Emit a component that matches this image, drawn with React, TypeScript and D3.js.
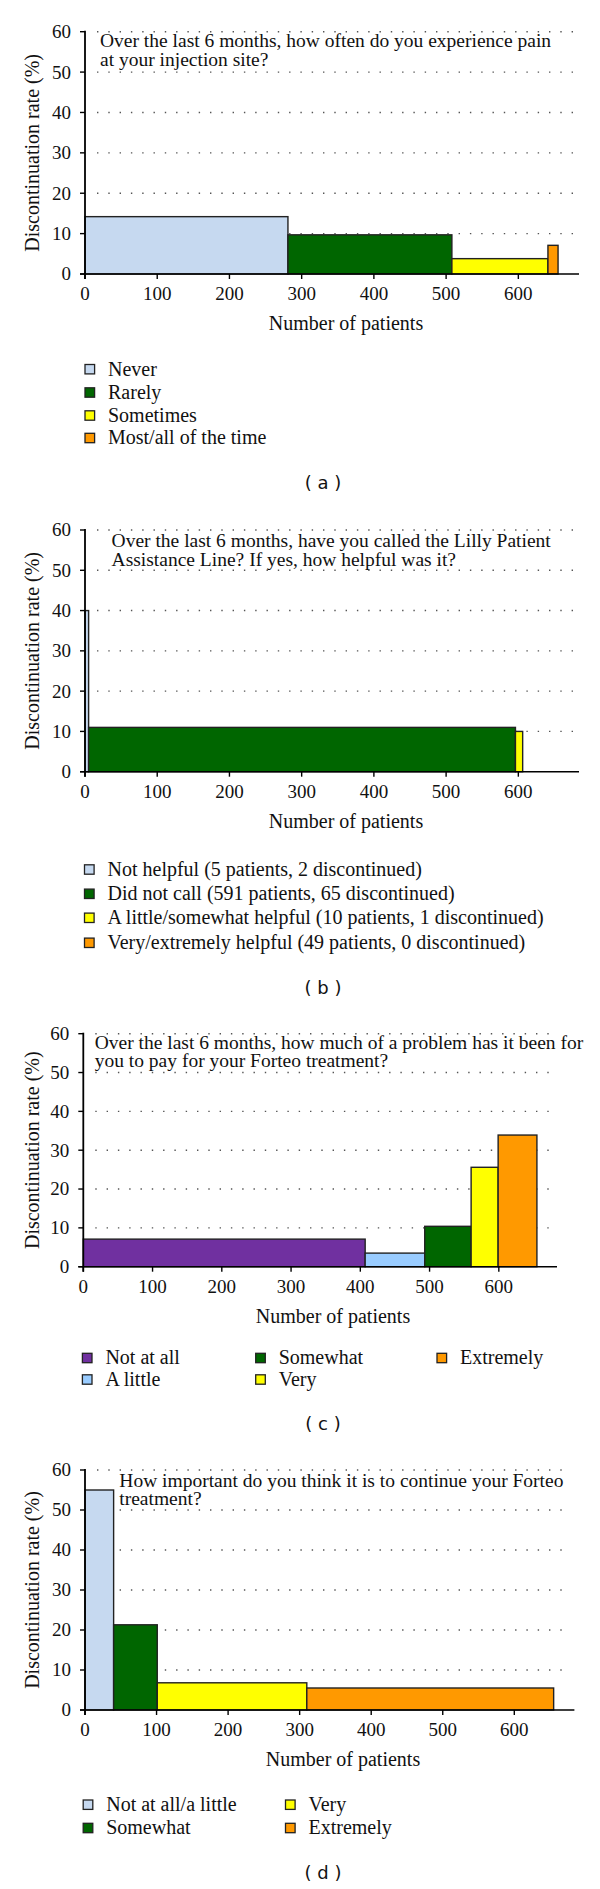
import React from "react";
import * as d3 from "d3";

// ---------- data ----------
const aCategories = ["Never", "Rarely", "Sometimes", "Most/all of the time"];
const aPatients = [281, 227, 133, 14];
const aRates = [14.2, 9.7, 3.8, 7.1];
const aColors = ["#c6d9f0", "#006600", "#ffff00", "#ff9900"];
const aQuestion = [
  "Over the last 6 months, how often do you experience pain",
  "at your injection site?",
];

const bCategories = [
  "Not helpful (5 patients, 2 discontinued)",
  "Did not call (591 patients, 65 discontinued)",
  "A little/somewhat helpful (10 patients, 1 discontinued)",
  "Very/extremely helpful (49 patients, 0 discontinued)",
];
const bPatients = [5, 591, 10, 49];
const bRates = [40, 11.0, 10, 0];
const bColors = ["#c6d9f0", "#006600", "#ffff00", "#ff9900"];
const bQuestion = [
  "Over the last 6 months, have you called the Lilly Patient",
  "Assistance Line? If yes, how helpful was it?",
];

const cCategories = ["Not at all", "A little", "Somewhat", "Very", "Extremely"];
const cPatients = [407, 86, 67, 39, 56];
const cRates = [7.1, 3.5, 10.4, 25.6, 33.9];
const cColors = ["#7030a0", "#99ccff", "#006600", "#ffff00", "#ff9900"];
const cQuestion = [
  "Over the last 6 months, how much of a problem has it been for",
  "you to pay for your Forteo treatment?",
];

const dCategories = ["Not at all/a little", "Somewhat", "Very", "Extremely"];
const dPatients = [40, 61, 209, 345];
const dRates = [55, 21.3, 6.8, 5.5];
const dColors = ["#c6d9f0", "#006600", "#ffff00", "#ff9900"];
const dQuestion = [
  "How important do you think it is to continue your Forteo",
  "treatment?",
];

const xTicks = [0, 100, 200, 300, 400, 500, 600];
const yTicks = [0, 10, 20, 30, 40, 50, 60];
const xDomainMax = 684;
const yDomainMax = 60;

const SERIF = "'Liberation Serif', 'Times New Roman', serif";
const SANS = "'DejaVu Sans', sans-serif";

// ---------- layout ----------
type PanelCfg = {
  categories: string[];
  patients: number[];
  rates: number[];
  colors: string[];
  question: string[];
  label: string;
  x0: number;
  x1: number;
  yBottom: number;
  yTop: number;
  qx: number;
  qy: number;
  xLabelX: number;
  legendCols: number[];
  legendRows: number[];
  rowsPerCol: number;
  panelLabelY: number;
};

const panels: PanelCfg[] = [
  {
    categories: aCategories, patients: aPatients, rates: aRates, colors: aColors,
    question: aQuestion, label: "( a )",
    x0: 85, x1: 579, yBottom: 274, yTop: 31.7, qx: 100, qy: 47.3, xLabelX: 346,
    legendCols: [85], legendRows: [369.2, 392.5, 415.5, 438], rowsPerCol: 4,
    panelLabelY: 489,
  },
  {
    categories: bCategories, patients: bPatients, rates: bRates, colors: bColors,
    question: bQuestion, label: "( b )",
    x0: 85, x1: 579, yBottom: 771.7, yTop: 530, qx: 111.6, qy: 547.3, xLabelX: 346,
    legendCols: [84.5], legendRows: [869.5, 893.8, 917.8, 942.8], rowsPerCol: 4,
    panelLabelY: 993.5,
  },
  {
    categories: cCategories, patients: cPatients, rates: cRates, colors: cColors,
    question: cQuestion, label: "( c )",
    x0: 83.3, x1: 557, yBottom: 1266.7, yTop: 1033.7, qx: 94.7, qy: 1049.1, xLabelX: 333,
    legendCols: [82.4, 255.7, 437], legendRows: [1358, 1379.5], rowsPerCol: 2,
    panelLabelY: 1429.5,
  },
  {
    categories: dCategories, patients: dPatients, rates: dRates, colors: dColors,
    question: dQuestion, label: "( d )",
    x0: 85, x1: 574.4, yBottom: 1710, yTop: 1470, qx: 119.3, qy: 1486.5, xLabelX: 343,
    legendCols: [83.2, 285.5], legendRows: [1804.7, 1828], rowsPerCol: 2,
    panelLabelY: 1878.5,
  },
];

function Panel({ cfg }: { cfg: PanelCfg }) {
  const x = d3.scaleLinear().domain([0, xDomainMax]).range([cfg.x0, cfg.x1]);
  const y = d3.scaleLinear().domain([0, yDomainMax]).range([cfg.yBottom, cfg.yTop]);
  const cum = d3.cumsum(cfg.patients);
  const starts = cfg.patients.map((p, i) => cum[i] - p);
  const gridStart = cfg.x0 + 12;
  const gridEnd = cfg.x1 - 5;
  const yMid = (cfg.yBottom + cfg.yTop) / 2;

  return (
    <g>
      {yTicks.filter((t) => t > 0).map((t) => (
        <line key={"g" + t} x1={gridStart} x2={gridEnd} y1={y(t)} y2={y(t)}
          stroke="#555" strokeWidth={1.4} strokeDasharray="1.4 9.9" />
      ))}
      {cfg.patients.map((p, i) =>
        cfg.rates[i] > 0 ? (
          <rect key={"b" + i} x={x(starts[i])} y={y(cfg.rates[i])}
            width={x(cum[i]) - x(starts[i])} height={y(0) - y(cfg.rates[i])}
            fill={cfg.colors[i]} stroke="#222" strokeWidth={1.4} />
        ) : null
      )}
      <line x1={cfg.x0} x2={cfg.x0} y1={y(60) - 1} y2={y(0) + 5} stroke="#000" strokeWidth={1.8} />
      <line x1={cfg.x0 - 5} x2={cfg.x1} y1={y(0)} y2={y(0)} stroke="#000" strokeWidth={1.6} />
      {yTicks.map((t) => (
        <g key={"yt" + t}>
          <line x1={cfg.x0 - 5} x2={cfg.x0} y1={y(t)} y2={y(t)} stroke="#000" strokeWidth={1.4} />
          <text x={cfg.x0 - 14} y={y(t)} dy="0.34em" textAnchor="end"
            fontFamily={SERIF} fontSize={19} fill="#111">{t}</text>
        </g>
      ))}
      {xTicks.map((t) => (
        <g key={"xt" + t}>
          <line x1={x(t)} x2={x(t)} y1={y(0)} y2={y(0) + 5} stroke="#000" strokeWidth={1.4} />
          <text x={x(t)} y={y(0) + 26} textAnchor="middle"
            fontFamily={SERIF} fontSize={19} fill="#111">{t}</text>
        </g>
      ))}
      <text transform={`translate(38.5,${yMid}) rotate(-90)`} textAnchor="middle"
        fontFamily={SERIF} fontSize={20} fill="#111">Discontinuation rate (%)</text>
      <text x={cfg.xLabelX} y={y(0) + 56} textAnchor="middle"
        fontFamily={SERIF} fontSize={20} fill="#111">Number of patients</text>
      <text x={cfg.qx} y={cfg.qy} fontFamily={SERIF} fontSize={19.5} fill="#111">
        {cfg.question.map((q, i) => (
          <tspan key={"q" + i} x={cfg.qx} dy={i === 0 ? 0 : 18.3}>{q}</tspan>
        ))}
      </text>
      {cfg.categories.map((c, i) => {
        const col = Math.floor(i / cfg.rowsPerCol);
        const row = i % cfg.rowsPerCol;
        const bx = cfg.legendCols[col];
        const cy = cfg.legendRows[row];
        return (
          <g key={"l" + i}>
            <rect x={bx} y={cy - 4.7} width={9.6} height={9.4} fill={cfg.colors[i]}
              stroke="#222" strokeWidth={1.3} />
            <text x={bx + 23} y={cy + 6.3} fontFamily={SERIF} fontSize={20} fill="#111">{c}</text>
          </g>
        );
      })}
      <text x={323} y={cfg.panelLabelY} textAnchor="middle" fontFamily={SANS}
        fontSize={18} fill="#111" style={{ whiteSpace: "pre" }}>{cfg.label}</text>
    </g>
  );
}

export default function App() {
  return (
    <svg width={600} height={1889} viewBox="0 0 600 1889"
      style={{ position: "absolute", left: 0, top: 0, background: "#fff" }}>
      <rect x={0} y={0} width={600} height={1889} fill="#fff" />
      {panels.map((p, i) => (
        <Panel key={i} cfg={p} />
      ))}
    </svg>
  );
}
